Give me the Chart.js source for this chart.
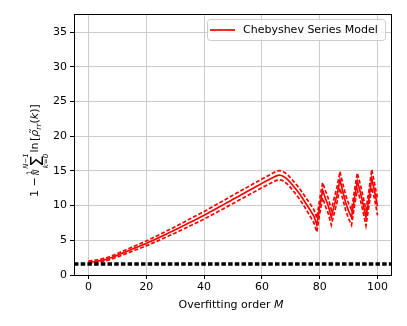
<!DOCTYPE html>
<html>
<head>
<meta charset="utf-8">
<script src="https://cdn.jsdelivr.net/npm/chart.js@4"></script>
<style>
html, body { margin: 0; padding: 0; background: #fff; }
canvas { display: block; }
</style>
</head>
<body>
<canvas id="chart" width="407" height="326"></canvas>
<script>
// ── data ────────────────────────────────────────────────────────────────────
const orders = Array.from({ length: 101 }, (_, i) => i);   // overfitting order M = 0..100

const meanVals = [
    1.90, 1.91, 1.94, 1.99, 2.06, 2.15, 2.26, 2.38, 2.52, 2.68,
    2.85, 3.02, 3.19, 3.36, 3.53, 3.70, 3.87, 4.04, 4.21, 4.38,
    4.55, 4.74, 4.93, 5.12, 5.31, 5.51, 5.71, 5.91, 6.11, 6.31,
    6.51, 6.71, 6.92, 7.13, 7.34, 7.55, 7.76, 7.97, 8.18, 8.39,
    8.60, 8.83, 9.06, 9.29, 9.52, 9.75, 9.98, 10.21, 10.44, 10.67,
    10.90, 11.13, 11.36, 11.59, 11.82, 12.05, 12.28, 12.51, 12.74, 12.97,
    13.20, 13.42, 13.64, 13.86, 14.08, 14.28, 14.40, 14.30, 14.05, 13.70,
    13.25, 12.75, 12.25, 11.70, 11.10, 10.45, 9.80, 9.15, 8.45, 7.20,
    9.90, 12.20, 11.00, 9.90, 8.30, 10.00, 11.60, 13.70, 12.00, 10.40,
    9.20, 8.30, 11.00, 13.50, 12.00, 10.20, 8.30, 11.00, 13.90, 12.00,
    9.90
];

const upperVals = [
    2.05, 2.07, 2.11, 2.17, 2.25, 2.35, 2.47, 2.60, 2.75, 2.92,
    3.10, 3.28, 3.46, 3.64, 3.82, 4.00, 4.18, 4.36, 4.54, 4.72,
    4.90, 5.10, 5.30, 5.50, 5.70, 5.91, 6.12, 6.33, 6.54, 6.75,
    6.96, 7.17, 7.39, 7.61, 7.83, 8.05, 8.27, 8.49, 8.71, 8.93,
    9.15, 9.38, 9.62, 9.85, 10.09, 10.32, 10.56, 10.79, 11.03, 11.26,
    11.50, 11.73, 11.96, 12.20, 12.43, 12.66, 12.89, 13.13, 13.36, 13.59,
    13.82, 14.05, 14.27, 14.50, 14.72, 14.93, 15.05, 14.96, 14.72, 14.38,
    13.95, 13.47, 12.99, 12.46, 11.88, 11.25, 10.65, 10.05, 9.40, 8.20,
    10.95, 13.30, 12.10, 11.00, 9.40, 11.10, 12.70, 14.90, 13.10, 11.50,
    10.30, 9.40, 12.10, 14.70, 13.10, 11.30, 9.40, 12.10, 15.20, 13.10,
    11.00
];

const lowerVals = [
    1.75, 1.75, 1.77, 1.81, 1.87, 1.95, 2.05, 2.16, 2.29, 2.44,
    2.60, 2.76, 2.92, 3.08, 3.24, 3.40, 3.56, 3.72, 3.88, 4.04,
    4.20, 4.38, 4.56, 4.74, 4.92, 5.11, 5.30, 5.49, 5.68, 5.87,
    6.06, 6.25, 6.45, 6.65, 6.85, 7.05, 7.25, 7.45, 7.65, 7.85,
    8.05, 8.28, 8.50, 8.73, 8.95, 9.18, 9.40, 9.63, 9.85, 10.08,
    10.30, 10.53, 10.76, 10.98, 11.21, 11.44, 11.67, 11.89, 12.12, 12.35,
    12.58, 12.79, 13.01, 13.22, 13.44, 13.63, 13.75, 13.64, 13.38, 13.02,
    12.55, 12.03, 11.51, 10.94, 10.32, 9.65, 8.95, 8.25, 7.50, 6.20,
    8.85, 11.10, 9.90, 8.80, 7.20, 8.90, 10.50, 12.50, 10.90, 9.30,
    8.10, 7.20, 9.90, 12.30, 10.90, 9.10, 7.10, 9.90, 12.60, 10.90,
    8.60
];

// horizontal reference level (black dashed), spanning the full x range
const baselineX = [-5, 105];
const baselineY = [1.6, 1.6];

const xTicks = [0, 20, 40, 60, 80, 100];
const yTicks = [0, 5, 10, 15, 20, 25, 30, 35];
const xRange = [-5, 105];
const yRange = [0, 37.6];

const legendLabel = 'Chebyshev Series Model';
const xTitleText = 'Overfitting order ';
const xTitleVar = 'M';

// ── drawing ─────────────────────────────────────────────────────────────────
const FONT = '"DejaVu Sans", "Liberation Sans", sans-serif';
const toPoints = (xs, ys) => xs.map((x, i) => ({ x: x, y: ys[i] }));

// frame, legend and the two axis titles (mathtext-like y label)
const decorPlugin = {
    id: 'decor',
    afterDraw(chart) {
        const ctx = chart.ctx;
        const a = chart.chartArea;
        ctx.save();

        // spines on all four sides
        ctx.strokeStyle = '#000';
        ctx.lineWidth = 1;
        ctx.strokeRect(a.left + 0.5, a.top + 0.5, a.right - a.left - 1, a.bottom - a.top);

        // legend box, top right
        const lx = a.right - 185, ly = a.top + 5, lw = 178, lh = 21;
        ctx.beginPath();
        ctx.roundRect(lx + 0.5, ly + 0.5, lw, lh, 3);
        ctx.fillStyle = 'rgba(255,255,255,0.8)';
        ctx.fill();
        ctx.strokeStyle = '#cccccc';
        ctx.stroke();
        ctx.beginPath();
        ctx.moveTo(lx + 3, ly + 11);
        ctx.lineTo(lx + 28, ly + 11);
        ctx.strokeStyle = '#ff0000';
        ctx.lineWidth = 1.7;
        ctx.stroke();
        ctx.fillStyle = '#000';
        ctx.font = '11px ' + FONT;
        ctx.textBaseline = 'middle';
        ctx.textAlign = 'left';
        ctx.fillText(legendLabel, lx + 36, ly + 11);

        // x title with italic M
        ctx.textBaseline = 'alphabetic';
        ctx.font = '11px ' + FONT;
        const w1 = ctx.measureText(xTitleText).width;
        ctx.font = 'oblique 11px ' + FONT;
        const w2 = ctx.measureText(xTitleVar).width;
        const x0 = (a.left + a.right) / 2 - 2 - (w1 + w2) / 2;
        ctx.font = '11px ' + FONT;
        ctx.fillText(xTitleText, x0, 308);
        ctx.font = 'oblique 11px ' + FONT;
        ctx.fillText(xTitleVar, x0 + w1, 308);

        // y title: 1 - (1/N) sum_{k=0}^{N-1} ln[rho_rr(k)], rotated
        ctx.translate(38, 197);
        ctx.rotate(-Math.PI / 2);
        ctx.textAlign = 'left';
        ctx.font = '11px ' + FONT;
        ctx.fillText('1', 0, 0);
        ctx.fillText('\u2212', 10.5, 0);

        ctx.textAlign = 'center';
        ctx.font = '7.5px ' + FONT;
        ctx.fillText('1', 24.5, -6.5);
        ctx.fillRect(22, -5.4, 5.5, 0.8);
        ctx.font = 'oblique 7.5px ' + FONT;
        ctx.fillText('N', 24.5, 0.6);

        ctx.font = '18px ' + FONT;
        ctx.fillText('\u03A3', 36, 5);
        ctx.font = 'oblique 7px ' + FONT;
        ctx.fillText('N\u22121', 36, -10.5);
        ctx.fillText('k=0', 36, 9.5);

        ctx.textAlign = 'left';
        let u = 44.5;
        const part = (txt, font, v) => {
            ctx.font = font;
            ctx.fillText(txt, u, v);
            u += ctx.measureText(txt).width;
        };
        part('ln', '11px ' + FONT, 0);
        u += 1.5;
        part('[', '11px ' + FONT, 0);
        part('\u03C1\u0303', 'oblique 11px ' + FONT, 0);
        part('rr', 'oblique 7.5px ' + FONT, 2.5);
        part('(', '11px ' + FONT, 0);
        part('k', 'oblique 11px ' + FONT, 0);
        part(')', '11px ' + FONT, 0);
        part(']', '11px ' + FONT, 0);

        ctx.restore();
    }
};

const ctx = document.getElementById('chart').getContext('2d');
new Chart(ctx, {
    type: 'line',
    data: {
        datasets: [
            {
                label: 'baseline',
                data: toPoints(baselineX, baselineY),
                borderColor: '#000',
                borderWidth: 3.5,
                borderDash: [4.5, 2.2],
                order: 0
            },
            {
                label: legendLabel,
                data: toPoints(orders, meanVals),
                borderColor: '#ff0000',
                borderWidth: 1.7,
                order: 1
            },
            {
                label: 'upper',
                data: toPoints(orders, upperVals),
                borderColor: '#ff0000',
                borderWidth: 1.7,
                borderDash: [4, 2],
                order: 2
            },
            {
                label: 'lower',
                data: toPoints(orders, lowerVals),
                borderColor: '#ff0000',
                borderWidth: 1.7,
                borderDash: [4, 2],
                order: 3
            }
        ]
    },
    options: {
        animation: false,
        responsive: false,
        events: [],
        layout: { padding: { left: 0, top: 14, right: 15, bottom: 0 } },
        elements: {
            point: { radius: 0 },
            line: { tension: 0, fill: false, borderCapStyle: 'butt' }
        },
        plugins: { legend: { display: false }, tooltip: { enabled: false } },
        scales: {
            x: {
                type: 'linear',
                min: xRange[0],
                max: xRange[1],
                afterBuildTicks: s => { s.ticks = xTicks.map(v => ({ value: v })); },
                afterFit: s => { s.height = 51; },
                ticks: { color: '#000', font: { family: FONT, size: 11 }, padding: 2, maxRotation: 0 },
                grid: { color: '#cccccc', tickColor: '#000', tickLength: 4, lineWidth: 1 },
                border: { display: false }
            },
            y: {
                type: 'linear',
                min: yRange[0],
                max: yRange[1],
                afterBuildTicks: s => { s.ticks = yTicks.map(v => ({ value: v })); },
                afterFit: s => { s.width = 74; },
                ticks: { color: '#000', font: { family: FONT, size: 11 }, padding: 3 },
                grid: { color: '#cccccc', tickColor: '#000', tickLength: 4, lineWidth: 1 },
                border: { display: false }
            }
        }
    },
    plugins: [decorPlugin]
});
</script>
</body>
</html>
